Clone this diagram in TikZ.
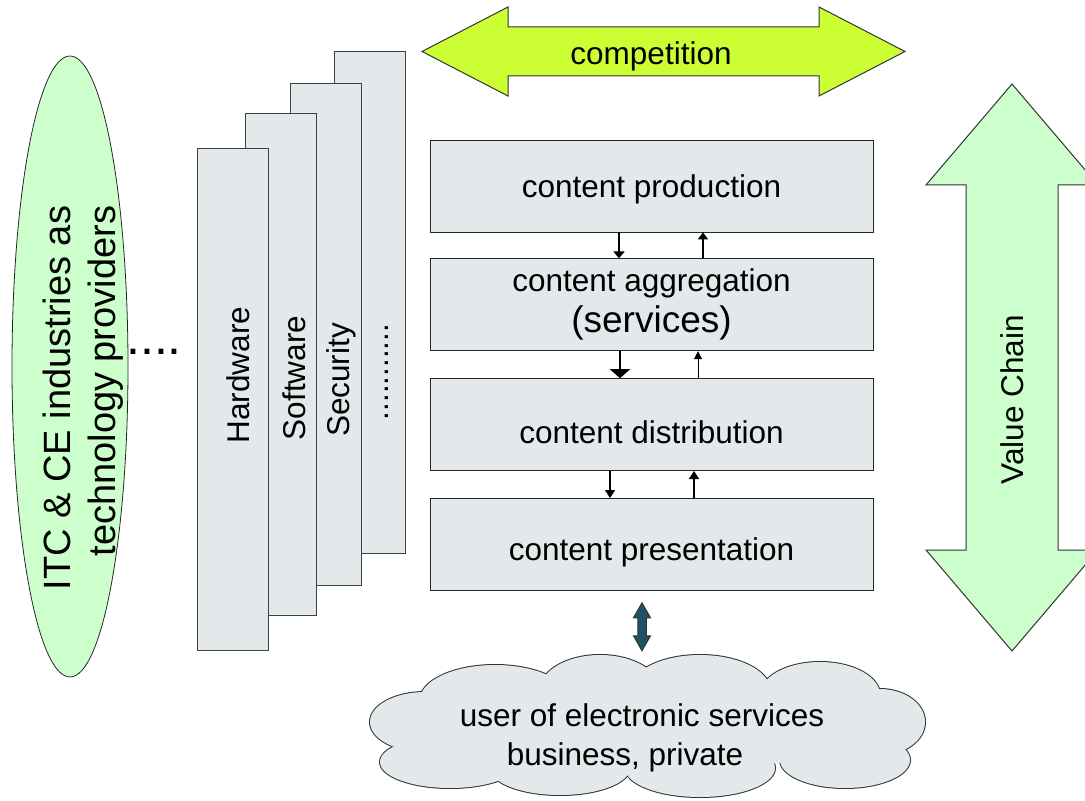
\documentclass[tikz,border=0pt]{standalone}
\usepackage{fontspec}
\setmainfont{Liberation Sans}
\usetikzlibrary{positioning,arrows.meta,shapes.geometric}
\definecolor{boxgray}{RGB}{227,232,234}
\definecolor{palegreen}{RGB}{204,255,204}
\definecolor{limegreen}{RGB}{204,255,51}
\definecolor{darkteal}{RGB}{31,82,102}
\newcommand{\cloudpuffs}{425/722/55/30, 450/762/70/26, 495/700/75/35, 600/690/60/35, 700/690/70/35,
	820/695/60/33, 880/722/45/33, 845/760/65/28, 700/768/75/29, 560/768/70/27}

\begin{document}
\begin{tikzpicture}[x=0.5pt,y=-0.5pt,font=\fontsize{15.75}{19.5}\selectfont,
	layer/.style={draw=black!75, fill=boxgray, minimum width=35.5pt, minimum height=251pt, inner sep=0pt},
	stage/.style={draw=black!85, fill=boxgray, minimum width=221.5pt, minimum height=46pt, inner sep=0pt, align=center},
	bigarrow/.style={draw=black!80, line width=0.5pt, line join=miter}]
\useasboundingbox (0,0) rectangle (1085,801);

% technology providers
\node[ellipse, draw=black!85, fill=palegreen, minimum width=58pt, minimum height=310.5pt, inner sep=0pt] (itc) at (70,366.5) {};
\node[rotate=90, align=right, font=\fontsize{19}{22.5}\selectfont] (itclabel) at (83,398) {ITC \& CE industries as\\technology providers};
\node[font=\fontsize{25}{25}\selectfont] (dots) at (154,352) {....};

% technology layers, back to front
\node[layer] (etc) at (369.5,302.5) {};
\node[layer] (sec) at (325.5,334.5) {};
\node[layer] (sw) at (281,364) {};
\node[layer] (hw) at (232.5,399) {};
\node[rotate=90] (hwlabel) at (238,375) {Hardware};
\node[rotate=90] (swlabel) at (294,378) {Software};
\node[rotate=90] (seclabel) at (341,380) {Security};
\node[rotate=90] (etclabel) at (387,372) {...........};

% competition
\draw[bigarrow, fill=limegreen] (422,51.5) -- (508,7) -- (508,27) -- (819,27) -- (819,7) -- (905,51.5)
	-- (819,96) -- (819,76) -- (508,76) -- (508,96) -- cycle;
\node (comp) at (651,56) {competition};

% value chain
\begin{scope}
\clip (0,0) rectangle (1085,801);
\draw[bigarrow, fill=palegreen] (1012,84) -- (1098,185) -- (1058,185) -- (1058,550) -- (1098,550) -- (1012,651)
	-- (926,550) -- (966,550) -- (966,185) -- (926,185) -- cycle;
\end{scope}
\node[rotate=90] (vc) at (1012,400) {Value Chain};

% value chain stages
\node[stage, text height=14.5pt] (prod) at (651.5,186) {content production};
\node[stage, below=13pt of prod] (aggr) {content aggregation\\[1pt]{\fontsize{18.5}{20}\selectfont (services)}};
\node[stage, below=13.5pt of aggr, text height=19pt] (dist) {content distribution};
\node[stage, below=13.5pt of dist, text height=19.5pt] (pres) {content presentation};

\draw[line width=1pt, -{Triangle[width=5.5pt,length=3.5pt]}] ([xshift=-16.25pt]prod.south) -- ([xshift=-16.25pt]aggr.north);
\draw[line width=0.7pt, -{Triangle[width=5pt,length=3.5pt]}] ([xshift=25.75pt]aggr.north) -- ([xshift=25.75pt]prod.south);
\draw[line width=1.2pt, -{Triangle[width=10pt,length=4.5pt]}] ([xshift=-15.75pt]aggr.south) -- ([xshift=-15.75pt]dist.north);
\draw[line width=0.5pt, -{Triangle[width=4pt,length=4pt]}] ([xshift=23.25pt]dist.north) -- ([xshift=23.25pt]aggr.south);
\draw[line width=0.8pt, -{Triangle[width=5pt,length=4pt]}] ([xshift=-20.75pt]dist.south) -- ([xshift=-20.75pt]pres.north);
\draw[line width=0.7pt, -{Triangle[width=5pt,length=4pt]}] ([xshift=21.25pt]pres.north) -- ([xshift=21.25pt]dist.south);

% users: cloud of puffs, outlines first, then filled over
\foreach \cx/\cy/\rx/\ry in \cloudpuffs
	\draw[draw=black!80, line width=1pt, fill=boxgray] (\cx,\cy) ellipse [x radius=\rx, y radius=\ry];
\foreach \cx/\cy/\rx/\ry in \cloudpuffs
	\fill[boxgray] (\cx,\cy) ellipse [x radius=\rx, y radius=\ry];
\fill[boxgray] (647,726) ellipse [x radius=230, y radius=45];
\node[align=center] (user) at (642,737.5) {user of electronic services\\business, private\hspace*{17pt}};
\draw[bigarrow, fill=darkteal] (pres.south) ++(-9.5,12) -- ++(8.5,15) -- ++(-4.25,0) -- ++(0,18) -- ++(4.25,0) -- ++(-8.5,15)
	-- ++(-8.5,-15) -- ++(4.25,0) -- ++(0,-18) -- ++(-4.25,0) -- cycle;
\end{tikzpicture}
\end{document}
